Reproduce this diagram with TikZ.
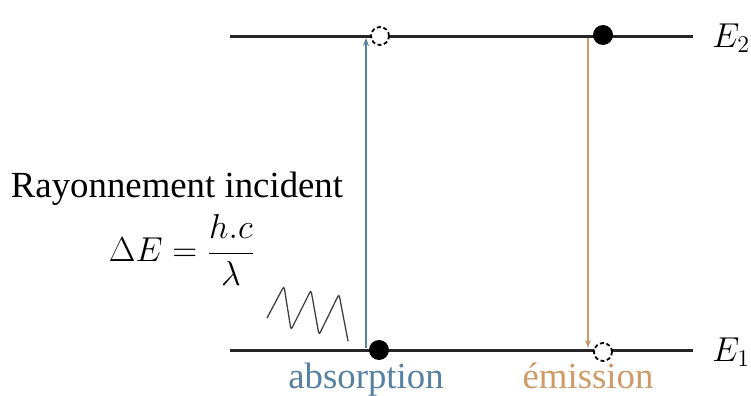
\documentclass[tikz,border=0pt]{standalone}
\usepackage{amsmath}
\usepackage{fontspec}
\setmainfont{Liberation Serif}
\usetikzlibrary{arrows.meta}

\definecolor{absblue}{RGB}{88,128,160}
\definecolor{emiorange}{RGB}{205,155,105}

\tikzset{
  level/.style={line width=1.5pt, black!85},
  filledstate/.style={circle, fill=black, minimum size=10pt, inner sep=0pt},
  emptystate/.style={circle, draw=black, dashed, dash pattern=on 2pt off 1.3pt, line width=0.9pt, fill=white, minimum size=9pt, inner sep=0pt},
  transition/.style={line width=0.7pt, -{Stealth[length=4pt, width=3pt]}},
  wave/.style={gray!50!black, line width=0.65pt, rounded corners=1.5pt}
}

\begin{document}
\begin{tikzpicture}[x=0.5pt, y=-0.5pt, font=\fontsize{18.4}{22}\selectfont]
\useasboundingbox (0,0) rectangle (751,396);

% Energy levels
\coordinate (E2start) at (230,36);
\coordinate (E2end) at (693,36);
\coordinate (E1start) at (230,350);
\coordinate (E1end) at (693,350);
\draw[level] (E2start) -- (E2end);
\draw[level] (E1start) -- (E1end);
\node[anchor=west, inner sep=0pt] (labelE2) at (712,38) {$E_2$};
\node[anchor=west, inner sep=0pt] (labelE1) at (712,352) {$E_1$};

% Absorption
\coordinate (absbottom) at (366,348);
\coordinate (abstop) at (366,38);
\draw[transition, absblue] (absbottom) -- (abstop);
\node[filledstate] (absdot) at (379,350) {};
\node[emptystate] (abshole) at (380,36) {};
\node[absblue, anchor=base] (abslabel) at (366,388) {absorption};

% Emission
\coordinate (emitop) at (588,38);
\coordinate (emibottom) at (588,348);
\draw[transition, emiorange] (emitop) -- (emibottom);
\node[filledstate] (emidot) at (603,35) {};
\node[emptystate] (emihole) at (603,352) {};
\node[emiorange, anchor=base] (emilabel) at (588,388) {émission};

% Incident radiation
\node[anchor=base] (rayon) at (177,197) {Rayonnement incident};
\node (energy) at (182,250) {$\Delta E = \dfrac{h.c}{\lambda}$};
\draw[wave] (267,318) -- (284,286) -- (291,330) -- (311,290) -- (319,335) -- (339,294) -- (348,341);

\end{tikzpicture}
\end{document}
